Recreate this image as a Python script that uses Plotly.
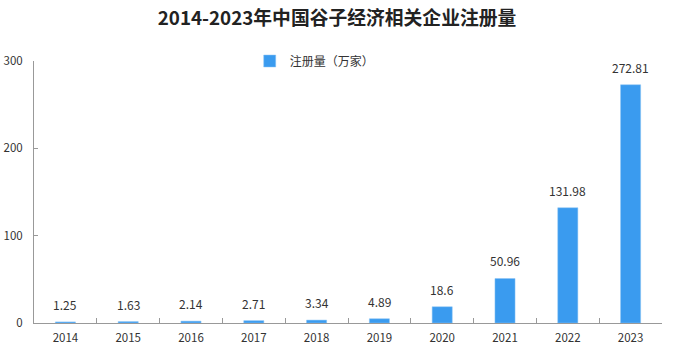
import plotly.graph_objects as go

years = ["2014", "2015", "2016", "2017", "2018", "2019", "2020", "2021", "2022", "2023"]
values = [1.25, 1.63, 2.14, 2.71, 3.34, 4.89, 18.6, 50.96, 131.98, 272.81]
labels = ["1.25", "1.63", "2.14", "2.71", "3.34", "4.89", "18.6", "50.96", "131.98", "272.81"]
series_name = "注册量（万家）"
title = "2014-2023年中国谷子经济相关企业注册量"

font = "Noto Sans CJK SC"

fig = go.Figure(go.Bar(
    x=years, y=values, name=series_name,
    marker=dict(color="#3A9BEF", line=dict(color="#8cc4f5", width=0.5)),
    showlegend=True,
))

for i, (v, lab) in enumerate(zip(values, labels)):
    fig.add_annotation(x=i, y=v, xref="x", yref="y", text=lab, showarrow=False,
                       yanchor="bottom", yshift=7,
                       font=dict(size=12, color="#333333", family=font))

fig.update_layout(
    width=674, height=359,
    margin=dict(l=34, r=12, t=61, b=36),
    paper_bgcolor="white", plot_bgcolor="white",
    title=dict(text="<b>" + title + "</b>", x=0.5, xanchor="center", y=0.948, yanchor="middle",
               font=dict(size=18.8, color="#222222", family=font)),
    bargap=0.68,
    legend=dict(orientation="h", x=0.447, xanchor="center", y=1.0, yanchor="middle",
                font=dict(size=12, color="#333333", family=font), bgcolor="rgba(0,0,0,0)"),
    font=dict(family=font, size=11, color="#333333"),
)
fig.update_xaxes(type="category", showline=True, linecolor="#999999", linewidth=1, ticks="inside",
                 tickson="boundaries", ticklen=5, tickcolor="#999999", ticklabelstandoff=4,
                 showgrid=False, tickangle=0, automargin=False,
                 tickfont=dict(size=11.5, color="#333333"))
fig.update_yaxes(range=[0, 300], dtick=100, showline=True, linecolor="#999999", linewidth=1,
                 ticks="inside", ticklen=4, tickcolor="#999999", showgrid=False, zeroline=False,
                 automargin=False, ticklabelstandoff=8, tickfont=dict(size=11.5, color="#333333"))

fig.write_html("out.html", config={"displayModeBar": False},
               post_script="document.body.style.margin='0';")
